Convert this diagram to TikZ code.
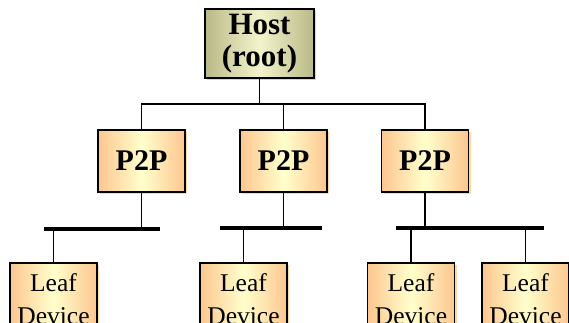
\documentclass[tikz,border=0pt]{standalone}
\usepackage{fontspec}
\setmainfont{Liberation Serif}
\usetikzlibrary{shadows}
\definecolor{peachedge}{HTML}{FDC690}
\definecolor{peachmid}{HTML}{FFFFCC}
\definecolor{peachshadow}{HTML}{FFD8A8}
\definecolor{oliveedge}{HTML}{B9B887}
\definecolor{olivemid}{HTML}{F4F4CC}
\definecolor{oliveshadow}{HTML}{D8D8C0}
\tikzset{
  box/.style={draw=black, line width=1.6pt, inner sep=0pt, align=center,
    left color=peachedge, right color=peachedge, middle color=peachmid,
    general shadow={fill=peachshadow, shadow xshift=2.2pt, shadow yshift=-2.2pt}},
  hostbox/.style={box, minimum width=109pt, minimum height=69pt,
    left color=oliveedge, right color=oliveedge, middle color=olivemid,
    general shadow={fill=oliveshadow, shadow xshift=2.2pt, shadow yshift=-2.2pt},
    font=\fontsize{31}{32}\selectfont\bfseries},
  p2pbox/.style={box, minimum width=87pt, minimum height=62pt,
    font=\fontsize{30}{32}\selectfont\bfseries},
  leafbox/.style={box, minimum width=87pt, minimum height=72pt,
    font=\fontsize{25.5}{33}\selectfont},
  wire/.style={line width=1.5pt},
  bus/.style={line width=4.5pt}
}
\begin{document}
\begin{tikzpicture}[x=1pt, y=-1pt]
\useasboundingbox (0,0) rectangle (569,322);
\clip (0,0) rectangle (569,322);

% root, switches and leaves
\node[hostbox] (host) at (259.5,43.5) {Host\\(root)};
\node[p2pbox] (p1) at (141.5,161) {P2P};
\node[p2pbox] (p2) at (283.5,161) {P2P};
\node[p2pbox] (p3) at (425,161) {P2P};
\node[leafbox] (l1) at (53.5,299) {Leaf\\Device};
\node[leafbox] (l2) at (243.5,299) {Leaf\\Device};
\node[leafbox] (l3) at (411,299) {Leaf\\Device};
\node[leafbox] (l4) at (525.5,299) {Leaf\\Device};

% tree from the host to the switches
\coordinate (hub) at (259.5,104);
\draw[wire] (host.south) -- (hub);
\draw[wire] (p1.north) |- (hub) -| (p3.north);
\draw[wire] (p2.north) -- (p2.north |- hub);

% buses below each switch
\coordinate (b1a) at (44,229);   \coordinate (b1b) at (160,229);
\coordinate (b2a) at (220,228);  \coordinate (b2b) at (322,228);
\coordinate (b3a) at (396,228);  \coordinate (b3b) at (544,228);
\draw[wire] (p1.south) -- (p1.south |- b1a);
\draw[wire] (p2.south) -- (p2.south |- b2a);
\draw[wire] (p3.south) -- (p3.south |- b3a);
\draw[wire] (l1.north) -- (l1.north |- b1a);
\draw[wire] (l2.north) -- (l2.north |- b2a);
\draw[wire] (l3.north) -- (l3.north |- b3a);
\draw[wire] (l4.north) -- (l4.north |- b3a);
\draw[bus] (b1a) -- (b1b);
\draw[bus] (b2a) -- (b2b);
\draw[bus] (b3a) -- (b3b);
\end{tikzpicture}
\end{document}
